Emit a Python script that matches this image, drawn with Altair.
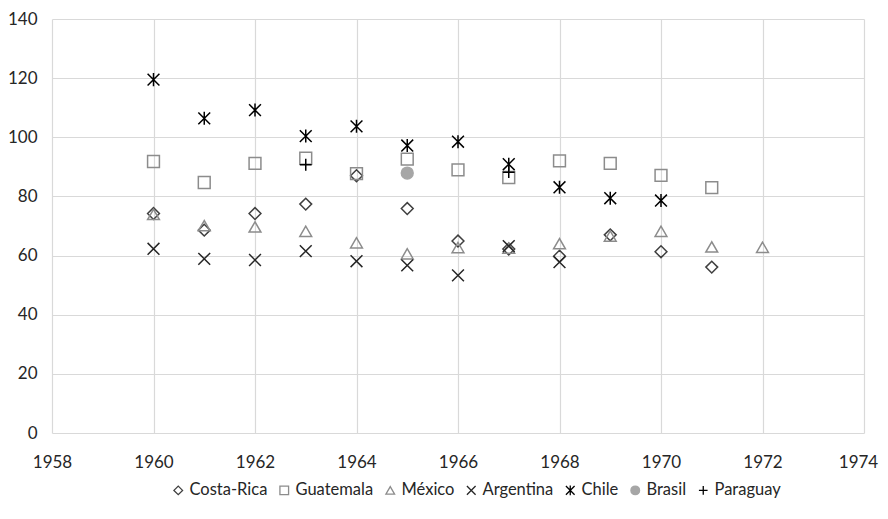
import altair as alt
import pandas as pd

years = list(range(1960, 1973))
costa_rica = [74.2, 68.6, 74.2, 77.4, 87.0, 75.9, 64.9, 62.2, 59.8, 67.0, 61.3, 56.1, None]
guatemala = [91.8, 84.7, 91.2, 92.9, 87.7, 92.6, 89.0, 86.4, 92.0, 91.2, 87.1, 83.0, None]
mexico = [73.9, 70.1, 69.7, 68.2, 64.3, 60.6, 62.7, 62.5, 64.0, 66.6, 68.2, 62.9, 62.8]
argentina = [62.3, 58.9, 58.5, 61.5, 58.1, 56.7, 53.3, 63.2, 57.8, None, None, None, None]
chile = [119.5, 106.4, 109.2, 100.4, 103.7, 97.2, 98.5, 90.9, 83.1, 79.4, 78.6, None, None]
brasil = [None, None, None, None, None, 87.9, None, None, None, None, None, None, None]
paraguay = [None, None, None, 90.7, None, None, None, 88.2, None, None, None, None, None]

names = ["Costa-Rica", "Guatemala", "México", "Argentina", "Chile", "Brasil", "Paraguay"]
series = [costa_rica, guatemala, mexico, argentina, chile, brasil, paraguay]

x_ticks = list(range(1958, 1975, 2))
y_ticks = list(range(0, 141, 20))

rows = []
for name, vals in zip(names, series):
    for yr, v in zip(years, vals):
        if v is not None:
            rows.append({"year": yr, "value": v, "country": name})
df = pd.DataFrame(rows)

strokes = ["#3f3f3f", "#8c8c8c", "#8c8c8c", "#262626", "#000000", "#a6a6a6", "#000000"]
fills = ["transparent", "transparent", "transparent", "transparent", "transparent", "#a6a6a6", "transparent"]
shapes = [
    "diamond",
    "square",
    "triangle-up",
    "M-1,-1L1,1M-1,1L1,-1",
    "M-1,-1L1,1M-1,1L1,-1M0,-1.1L0,1.1",
    "circle",
    "M-1,0L1,0M0,-1L0,1",
]

FONT = "Lato"

legend = alt.Legend(
    title=None,
    orient="none",
    legendX=118,
    legendY=463,
    direction="horizontal",
    columns=7,
    labelFont=FONT,
    labelFontSize=16.5,
    labelColor="#262626",
    symbolSize=75,
    symbolStrokeWidth=1.3,
    labelOffset=3,
    columnPadding=8,
    padding=0,
)

chart = alt.Chart(df).mark_point(size=140, strokeWidth=1.5, opacity=1).encode(
    x=alt.X(
        "year:Q",
        scale=alt.Scale(domain=[1958, 1974], nice=False, zero=False),
        axis=alt.Axis(values=x_ticks, format="d", title=None, ticks=False, domain=False,
                      labelFlush=False,
                      labelOffset=alt.condition("datum.value == 1974", alt.value(-6), alt.value(0)),
                      labelPadding=21, labelFont=FONT, labelFontSize=17,
                      labelColor="#262626", gridColor="#d9d9d9", gridWidth=1.2),
    ),
    y=alt.Y(
        "value:Q",
        scale=alt.Scale(domain=[0, 140], nice=False),
        axis=alt.Axis(values=y_ticks, title=None, ticks=False, domain=False,
                      labelFlush=False, labelPadding=15, labelFont=FONT, labelFontSize=17,
                      labelColor="#262626", gridColor="#d9d9d9", gridWidth=1.2),
    ),
    stroke=alt.Stroke("country:N", scale=alt.Scale(domain=names, range=strokes), legend=legend),
    fill=alt.Fill("country:N", scale=alt.Scale(domain=names, range=fills), legend=legend),
    shape=alt.Shape("country:N", scale=alt.Scale(domain=names, range=shapes), legend=legend),
).properties(
    width=812,
    height=414,
    autosize=alt.AutoSizeParams(type="none"),
    padding={"left": 44, "top": 11, "right": 16, "bottom": 70},
).configure_view(stroke=None)

chart.save("out.html", embed_options={"renderer": "svg", "actions": False})
